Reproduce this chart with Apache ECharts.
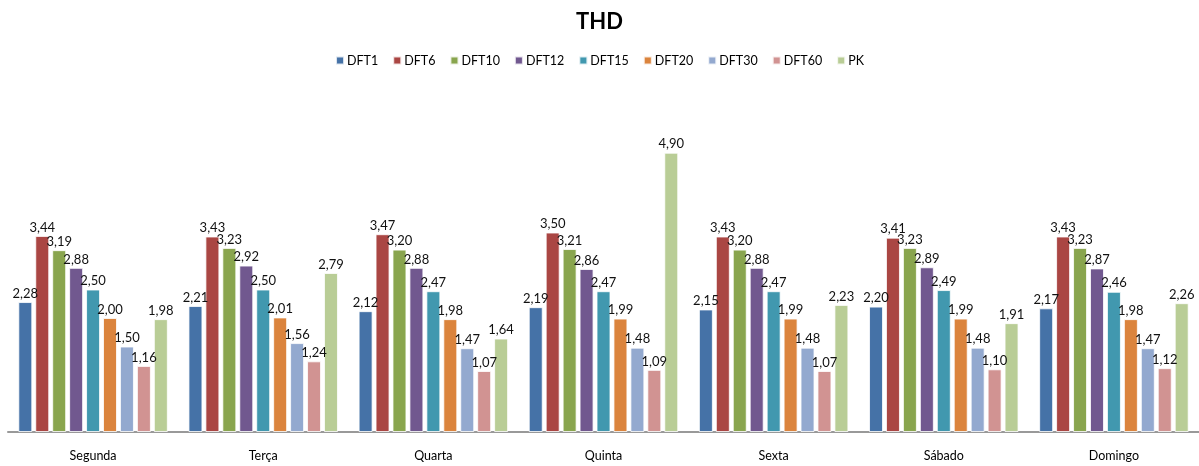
<!DOCTYPE html>
<html><head><meta charset="utf-8">
<script src="https://cdn.jsdelivr.net/npm/echarts@6/dist/echarts.min.js"></script>
<style>html,body{margin:0;padding:0;background:#fff}#c{width:1199px;height:466px}</style>
</head><body><div id="c"></div>
<script>
const categories = ['Segunda','Terça','Quarta','Quinta','Sexta','Sábado','Domingo'];
const seriesNames = ['DFT1','DFT6','DFT10','DFT12','DFT15','DFT20','DFT30','DFT60','PK'];
const colors = ['#4572A7','#AA4643','#89A54E','#71588F','#4198AF','#DB843D','#93A9CF','#D19392','#B9CD96'];
const DFT1  = [2.28,2.21,2.12,2.19,2.15,2.20,2.17];
const DFT6  = [3.44,3.43,3.47,3.50,3.43,3.41,3.43];
const DFT10 = [3.19,3.23,3.20,3.21,3.20,3.23,3.23];
const DFT12 = [2.88,2.92,2.88,2.86,2.88,2.89,2.87];
const DFT15 = [2.50,2.50,2.47,2.47,2.47,2.49,2.46];
const DFT20 = [2.00,2.01,1.98,1.99,1.99,1.99,1.98];
const DFT30 = [1.50,1.56,1.47,1.48,1.48,1.48,1.47];
const DFT60 = [1.16,1.24,1.07,1.09,1.07,1.10,1.12];
const PK    = [1.98,2.79,1.64,4.90,2.23,1.91,2.26];
const data = [DFT1,DFT6,DFT10,DFT12,DFT15,DFT20,DFT30,DFT60,PK];
const font = 'Lato, "Open Sans", sans-serif';
const chart = echarts.init(document.getElementById('c'));
chart.setOption({
  animation:false,
  color:colors,
  title:{text:'THD',left:'center',top:6,textStyle:{fontFamily:font,fontSize:22,fontWeight:'bold',color:'#000'}},
  legend:{top:49,left:'center',itemWidth:8,itemHeight:8,itemGap:14,icon:'rect',
    textStyle:{fontFamily:font,fontSize:12.5,color:'#000',padding:[0,0,0,-2]},data:seriesNames},
  grid:{left:8,right:0,top:90,bottom:34,containLabel:false},
  xAxis:{type:'category',data:categories,
    axisLine:{lineStyle:{color:'#999',width:2}},axisTick:{show:false},
    axisLabel:{fontFamily:font,fontSize:12.5,color:'#000',margin:17}},
  yAxis:{type:'value',min:0,max:6,show:false,splitLine:{show:false}},
  series: seriesNames.map((n,i)=>({
    name:n,type:'bar',data:data[i],barWidth:14,barGap:'21%',barCategoryGap:'12%',
    itemStyle:{borderColor:'rgba(255,255,255,0.8)',borderWidth:1},
    label:{show:true,position:'top',distance:2,fontFamily:font,fontSize:13,color:'#111',
      formatter:p=>p.value.toFixed(2).replace('.',',')}
  }))
});
</script></body></html>
